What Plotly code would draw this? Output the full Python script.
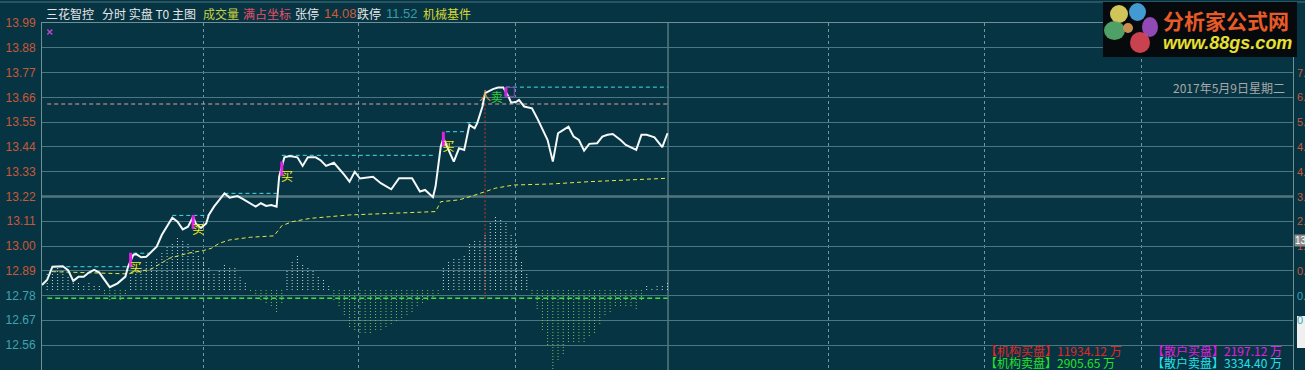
import plotly.graph_objects as go

# ---------------- data ----------------
stock_name = "三花智控"
limit_up = "14.08"
limit_down = "11.52"
sector = "机械基件"
trade_date = "2017年5月9日星期二"

price_min = [0, 2, 4, 8, 10, 12, 14, 16, 18, 20, 22, 26, 29, 32, 33, 35, 36, 38, 40, 42,
             44, 46, 48, 50, 52, 54, 56, 58, 59, 61, 63, 64, 66, 68, 70, 72, 75, 77, 80, 82,
             84, 86, 88, 90, 91, 93, 95, 98, 100, 102, 105, 107, 109, 112, 116, 118, 120, 122, 127, 130,
             134, 137, 142, 145, 147, 150, 151, 153, 154, 156, 158, 160, 162, 164, 166, 167, 169, 170, 173, 175,
             177, 179, 180, 182, 183, 185, 188, 190, 192, 194, 196, 198, 199, 202, 204, 206, 208, 210, 213, 215,
             217, 219, 222, 224, 228, 230, 232, 235, 238, 240]
price_val = [12.827, 12.850, 12.908, 12.910, 12.893, 12.845, 12.863, 12.863, 12.882, 12.894, 12.882, 12.817, 12.834, 12.864, 12.908, 12.960, 12.965, 12.950, 12.952, 12.975,
             12.997, 13.050, 13.086, 13.126, 13.108, 13.074, 13.086, 13.130, 13.100, 13.080, 13.100, 13.138, 13.175, 13.205, 13.234, 13.215, 13.222, 13.209, 13.187, 13.175,
             13.190, 13.178, 13.182, 13.175, 13.308, 13.394, 13.400, 13.394, 13.356, 13.394, 13.394, 13.380, 13.356, 13.370, 13.316, 13.286, 13.330, 13.300, 13.308, 13.279,
             13.252, 13.301, 13.301, 13.242, 13.249, 13.217, 13.264, 13.442, 13.479, 13.427, 13.375, 13.434, 13.427, 13.538, 13.523, 13.546, 13.620, 13.679, 13.697, 13.704,
             13.704, 13.664, 13.637, 13.641, 13.649, 13.620, 13.612, 13.568, 13.516, 13.471, 13.375, 13.501, 13.508, 13.530, 13.486, 13.471, 13.424, 13.454, 13.457, 13.486,
             13.494, 13.498, 13.471, 13.449, 13.427, 13.494, 13.494, 13.483, 13.439, 13.501]

avg_min = [4, 33, 42, 49, 56, 62, 65, 68, 72, 80, 89, 92, 96, 103, 110, 118, 127, 140, 151, 153,
           160, 165, 169, 174, 181, 196, 210, 227, 240]
avg_val = [12.886, 12.876, 12.898, 12.946, 12.968, 12.980, 12.990, 13.012, 13.027, 13.039, 13.045, 13.090, 13.108, 13.123, 13.130, 13.138, 13.142, 13.148, 13.153, 13.197,
           13.205, 13.222, 13.237, 13.257, 13.271, 13.276, 13.286, 13.294, 13.301]

flow_min = list(range(2, 241, 2))
flow_val = [18, 24, 22, 20, 15, 10, 8, 6, 7, 5, 4, -4, -10, -8, -10, -5,
            14, 20, 24, 28, 28, 32, 37, 43, 48, 53, 51, 46, 41, 35, 30, 24, 18, 21, 26, 24, 22, 13, 8,
            -3, -6, -11, -13, -16, -24, -14,
            20, 30, 34, 27, 22, 20, 15, 10, 5,
            -10, -16, -26, -38, -40, -43, -45, -43, -42, -40, -38, -35, -32, -28, -25, -22, -18, -15, -12, -8, -5,
            22, 30, 33, 33, 35, 48, 50, 50, 57, 68, 73, 72, 67, 57, 48, 30, 17,
            -5, -20, -40, -55, -80, -72, -65, -53, -52, -52, -52, -47, -43, -35, -27, -22, -18, -17, -16, -18, -20, -10,
            4, 3, 5, 6, 8]

level_start = [4, 35, 50, 70, 92, 155, 163, 178]
level_end = [33, 41, 64, 90, 151, 162, 168, 240]
level_val = [12.908, 12.968, 13.136, 13.234, 13.403, 13.508, 13.548, 13.706]

pink_level = 13.631
green_level = 12.768
level_span = [2, 240]
peak_min = 170

buy_min = [34, 58, 92, 154]
buy_low = [12.905, 13.075, 13.310, 13.443]
buy_high = [12.970, 13.138, 13.375, 13.508]
sell_min = [178]
sell_low = [13.664]
sell_high = [13.706]

mark_min = [3]
mark_val = [13.951]

y_tick_vals = [12.45, 12.56, 12.67, 12.78, 12.89, 13.00, 13.11, 13.22, 13.33, 13.44, 13.55, 13.66, 13.77, 13.88, 13.99]
y_tick_text = ["13893", "12.56", "12.67", "12.78", "12.89", "13.00", "13.11", "13.22", "13.33", "13.44", "13.55", "13.66", "13.77", "13.88", "13.99"]
right_tick_vals = [13.77, 13.66, 13.55, 13.44, 13.33, 13.22, 13.11, 13.00, 12.89, 12.78, 12.67]
right_tick_text = ["7.", "6.", "5.", "4.", "4.", "3.", "2.", "1.", "0.", "0.", "0"]
prev_close = 13.22
grid_x = [61.8, 121.6, 181.5, 301.6, 361.5, 421.7]
day_break = 240.2

inst_buy = "11934.12"
retail_buy = "2197.12"
inst_sell = "2905.65"
retail_sell = "3334.40"

# ---------------- style ----------------
BG = "#073442"
GRID = "#4b7782"
ORANGE = "#c8583a"
TEAL = "#3fa3b0"
CJK = "Noto Sans CJK SC"
NUM = "Liberation Sans"

W, H = 1305, 370
L, R, T, B = 42, 12, 23, 0
PW, PH = W - L - R, H - T - B


def px(xp, yp):
    return (xp - L) / PW, (H - B - yp) / PH


def segs(xs, a, b):
    X, Y = [], []
    for x, y0, y1 in zip(xs, a, b):
        X += [x, x, None]
        Y += [y0, y1, None]
    return X, Y


fig = go.Figure()

# flow bars (dotted vertical bars)
pos = [(m, v) for m, v in zip(flow_min, flow_val) if v > 0]
neg = [(m, v) for m, v in zip(flow_min, flow_val) if v < 0]
X, Y = segs([p[0] for p in pos], [0] * len(pos), [p[1] for p in pos])
fig.add_trace(go.Scatter(x=X, y=Y, yaxis="y2", mode="lines",
                         line=dict(color="#c4dada", width=1, dash="1px,2px"), hoverinfo="skip"))
X, Y = segs([p[0] for p in neg], [0] * len(neg), [p[1] for p in neg])
fig.add_trace(go.Scatter(x=X, y=Y, yaxis="y2", mode="lines",
                         line=dict(color="#6cc858", width=1, dash="1px,2px"), hoverinfo="skip"))

# horizontal reference levels
fig.add_trace(go.Scatter(x=level_span, y=[pink_level, pink_level], mode="lines",
                         line=dict(color="#e0a0a8", width=1, dash="4px,3px"), hoverinfo="skip"))
fig.add_trace(go.Scatter(x=level_span, y=[green_level, green_level], mode="lines",
                         line=dict(color="#3ee03e", width=1.5, dash="5px,3px"), hoverinfo="skip"))
X, Y = [], []
for s, e, v in zip(level_start, level_end, level_val):
    X += [s, e, None]
    Y += [v, v, None]
fig.add_trace(go.Scatter(x=X, y=Y, mode="lines",
                         line=dict(color="#40e0e8", width=1, dash="4px,3px"), hoverinfo="skip"))

# red vertical at peak
fig.add_trace(go.Scatter(x=[peak_min, peak_min], y=[green_level, pink_level], mode="lines",
                         line=dict(color="#d03030", width=1, dash="2px,2px"), hoverinfo="skip"))

# average line
fig.add_trace(go.Scatter(x=avg_min, y=avg_val, mode="lines",
                         line=dict(color="#e8e840", width=1, dash="4px,3px"), hoverinfo="skip"))
# price line
fig.add_trace(go.Scatter(x=price_min, y=price_val, mode="lines",
                         line=dict(color="#f4f8f8", width=2), hoverinfo="skip"))

# buy signals
X, Y = segs(buy_min, buy_low, buy_high)
fig.add_trace(go.Scatter(x=X, y=Y, mode="lines", line=dict(color="#e020e8", width=3), hoverinfo="skip"))
fig.add_trace(go.Scatter(x=[m + 2 for m in buy_min], y=[v - 0.008 for v in buy_low], mode="text",
                         text=["买"] * len(buy_min),
                         textfont=dict(color="#f0f020", size=12, family=CJK), hoverinfo="skip"))
# sell signal
X, Y = segs(sell_min, sell_low, sell_high)
fig.add_trace(go.Scatter(x=X, y=Y, mode="lines", line=dict(color="#e020e8", width=3), hoverinfo="skip"))
fig.add_trace(go.Scatter(x=[m + 1.5 for m in sell_min], y=[(a + b) / 2 for a, b in zip(sell_low, sell_high)],
                         mode="markers", marker=dict(symbol="square-open", size=9, color="#9a40c8"),
                         hoverinfo="skip"))
fig.add_trace(go.Scatter(x=[m - 8 for m in sell_min], y=[v - 0.005 for v in sell_low], mode="text",
                         text=["人"], textfont=dict(color="#e8a040", size=12, family=CJK), hoverinfo="skip"))
fig.add_trace(go.Scatter(x=[m - 3.5 for m in sell_min], y=[v - 0.012 for v in sell_low], mode="text",
                         text=["卖"], textfont=dict(color="#30d030", size=12, family=CJK), hoverinfo="skip"))
# small mark top-left
fig.add_trace(go.Scatter(x=mark_min, y=mark_val, mode="markers",
                         marker=dict(symbol="x-thin-open", size=5, color="#c040d0", line=dict(width=1.5, color="#c040d0")),
                         hoverinfo="skip"))


def tick_color(v, i):
    if i == 0:
        return "#c8c838"
    return ORANGE if v >= 12.85 else TEAL


ticktext = ['<span style="color:%s">%s</span>' % (tick_color(v, i), t)
            for i, (v, t) in enumerate(zip(y_tick_vals, y_tick_text))]

shapes = []
# previous close line (brighter)
shapes.append(dict(type="line", xref="paper", x0=0, x1=1, yref="y", y0=prev_close, y1=prev_close,
                   line=dict(color="#7d9196", width=2), layer="below"))
# day break line
shapes.append(dict(type="line", xref="x", x0=day_break, x1=day_break, yref="paper", y0=0, y1=1,
                   line=dict(color="#7d9aa2", width=1), layer="below"))
# top border line of title bar
x0p, y0p = px(0, 2)
x1p, _ = px(W, 2)
shapes.append(dict(type="line", xref="paper", yref="paper", x0=x0p, x1=x1p, y0=y0p, y1=y0p,
                   line=dict(color=GRID, width=1)))
# logo background
a0, b0 = px(1103, 2)
a1, b1 = px(1297, 57)
shapes.append(dict(type="rect", xref="paper", yref="paper", x0=a0, x1=a1, y0=b1, y1=b0,
                   fillcolor="#060a0c", line=dict(width=0)))
# flower petals
petals = [((1110, 5, 1128, 23), "#e8d860"), ((1129, 3, 1146, 21), "#4aa8e8"),
          ((1142, 17, 1158, 37), "#a050c8"), ((1130, 32, 1150, 53), "#e04858"),
          ((1104, 21, 1125, 40), "#58b070")]
for (xa, ya, xb, yb), c in petals:
    p0 = px(xa, ya)
    p1 = px(xb, yb)
    shapes.append(dict(type="circle", xref="paper", yref="paper", x0=p0[0], x1=p1[0], y0=p1[1], y1=p0[1],
                       fillcolor=c, line=dict(width=0), opacity=0.9))
c0 = px(1123, 23)
c1 = px(1133, 33)
shapes.append(dict(type="circle", xref="paper", yref="paper", x0=c0[0], x1=c1[0], y0=c1[1], y1=c0[1],
                   fillcolor="#c89050", line=dict(width=0)))
# white box at right edge
w0 = px(1297, 316)
w1 = px(1306, 348)
shapes.append(dict(type="rect", xref="paper", yref="paper", x0=w0[0], x1=w1[0], y0=w1[1], y1=w0[1],
                   fillcolor="#f0f0f0", line=dict(width=0)))

ann = []


def txt(xp, yp, s, color, size=12, family=CJK, anchor="left", **kw):
    xx, yy = px(xp, yp)
    ann.append(dict(xref="paper", yref="paper", x=xx, y=yy, text=s, showarrow=False,
                    xanchor=anchor, yanchor="middle", font=dict(color=color, size=size, family=family), **kw))


# title row
txt(44, 14, stock_name, "#e6e6e6")
txt(100, 14, "分时 实盘 T0 主图", "#e6e6e6")
txt(201, 14, "成交量", "#c8d040")
txt(241, 14, "满占坐标", "#e85068")
txt(293, 14, "张停", "#e6e6e6")
txt(322, 14, limit_up, "#d05a3a", family=NUM, size=13)
txt(355, 14, "跌停", "#e6e6e6")
txt(384, 14, limit_down, "#3a9aa8", family=NUM, size=13)
txt(421, 14, sector, "#d8d830")

# right axis labels
for v, t in zip(right_tick_vals, right_tick_text):
    ann.append(dict(xref="paper", yref="y", x=(1295 - L) / PW, y=v, text=t, showarrow=False,
                    xanchor="left", yanchor="middle",
                    font=dict(color=ORANGE if v >= 12.85 else TEAL, size=11, family=NUM)))
# current price box
txt(1294, 240, "13", "#ffffff", size=10, family=NUM, bgcolor="#8c8c8c", borderpad=0)

# logo text
txt(1161, 20, "<b>分析家公式网</b>", "#e85a28", size=21, family=CJK)
txt(1161, 43, "<b><i>www.88gs.com</i></b>", "#e8e030", size=18, family="Liberation Sans")

# date
txt(1287, 88, trade_date, "#a8a8a8", anchor="right")

# bottom legend
txt(983, 350, "【机构买盘】%s 万" % inst_buy, "#e02828")
txt(1150, 350, "【散户买盘】%s 万" % retail_buy, "#e020e0")
txt(983, 362, "【机构卖盘】%s 万" % inst_sell, "#28e028")
txt(1150, 362, "【散户卖盘】%s 万" % retail_sell, "#28e0e8")

fig.update_layout(
    width=W, height=H, autosize=False,
    margin=dict(l=L, r=R, t=T, b=B, pad=0),
    paper_bgcolor=BG, plot_bgcolor=BG,
    showlegend=False,
    xaxis=dict(range=[0, 480], tickvals=grid_x, showticklabels=False, ticks="", automargin=False,
               showgrid=True, gridcolor="#6f98a2", griddash="dot", gridwidth=1,
               zeroline=False, showline=True, mirror=True, linecolor="#6f8f98", linewidth=1),
    yaxis=dict(range=[12.449, 13.991], tickvals=y_tick_vals, ticktext=ticktext, ticks="",
               tickfont=dict(family=NUM, size=12), ticklabelstandoff=3, automargin=False,
               showgrid=True, gridcolor=GRID, gridwidth=1, zeroline=False,
               showline=True, mirror=True, linecolor="#6f8f98", linewidth=1),
    yaxis2=dict(range=[-80, 267], overlaying="y", side="right", showgrid=False, automargin=False,
                showticklabels=False, zeroline=False, ticks=""),
    shapes=shapes,
    annotations=ann,
    hovermode=False,
)

fig.write_html("out.html", config={"displayModeBar": False},
               post_script="document.body.style.margin='0px';document.body.style.overflow='hidden';document.body.style.background='%s';" % BG)
